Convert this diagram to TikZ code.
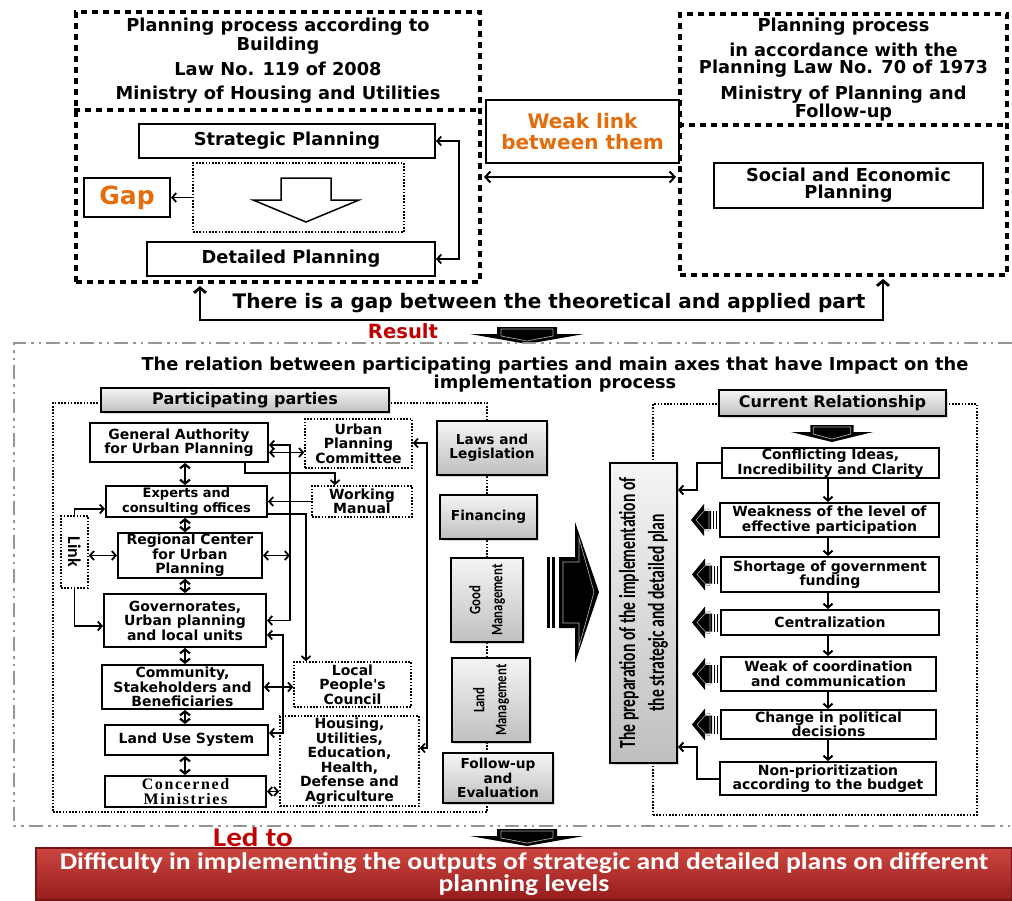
\documentclass[tikz,border=0pt]{standalone}
\usepackage{fontspec}
\setmainfont{DejaVu Sans}
\newfontfamily\calfont{Carlito}
\newfontfamily\calcond{Carlito}[FakeStretch=0.68]
\newfontfamily\calmid{Carlito}[FakeStretch=0.8]
\newfontfamily\calwide{Carlito}[FakeStretch=1.15]
\newfontfamily\timesfont{Liberation Serif}[LetterSpace=10]
\usetikzlibrary{arrows.meta,shadows}

\definecolor{gaporange}{RGB}{228,108,10}
\definecolor{resred}{RGB}{192,0,0}
\definecolor{difftop}{RGB}{205,70,64}
\definecolor{diffbot}{RGB}{150,28,28}
\definecolor{frameg}{RGB}{150,150,150}

\newcommand\hdfont{\fontsize{17.8pt}{17pt}\selectfont\bfseries}
\newcommand\ttlfont{\fontsize{17.8pt}{18pt}\selectfont\bfseries}
\newcommand\boxfont{\fontsize{14pt}{14.5pt}\selectfont\bfseries}
\newcommand\smfont{\fontsize{13pt}{15pt}\selectfont\bfseries}
\newcommand\lblfont{\fontsize{16pt}{17pt}\selectfont\bfseries}
\newcommand\axfont{\fontsize{13.7pt}{14.5pt}\selectfont\bfseries}
\newcommand\gapfont{\fontsize{25pt}{26pt}\selectfont\bfseries}
\newcommand\weakfont{\fontsize{20pt}{21pt}\selectfont\bfseries}
\newcommand\resfont{\fontsize{19.6pt}{20pt}\selectfont\bfseries}
\newcommand\prepfont{\calcond\fontsize{23pt}{29pt}\selectfont\bfseries}
\newcommand\mgfont{\calmid\fontsize{16pt}{22pt}\selectfont\bfseries}
\newcommand\linkfont{\calfont\fontsize{18pt}{18pt}\selectfont\bfseries}
\newcommand\ledfont{\calwide\fontsize{27pt}{28pt}\selectfont\bfseries}
\newcommand\difffont{\calwide\fontsize{24pt}{22pt}\selectfont\bfseries}
\newcommand\minfont{\timesfont\fontsize{16pt}{15pt}\selectfont\bfseries}

\tikzset{every picture/.style={line width=1.8pt},
  >={Straight Barb[length=4pt,width=9pt]},
  sz/.style 2 args={minimum width=#1pt,minimum height=#2pt},
  bigdash/.style={draw, line width=4pt, dash pattern=on 6pt off 5pt},
  hdtext/.style={align=center, font=\hdfont, inner sep=0pt},
  sbox/.style={draw, line width=2pt, fill=white, align=center, font=\boxfont, inner sep=1pt},
  dbox/.style={draw, line width=1.6pt, dash pattern=on 1.6pt off 1.6pt, fill=white, align=center, font=\boxfont, inner sep=1pt},
  dotframe/.style={draw, line width=1.6pt, dash pattern=on 1.6pt off 1.6pt},
  gbox/.style={draw, line width=2pt, top color=gray!8, bottom color=gray!50, align=center, font=\boxfont, inner sep=1pt,
    drop shadow={opacity=0.3, shadow xshift=1.5pt, shadow yshift=-1.5pt}},
  spine/.style={line width=2.2pt, >={Straight Barb[length=4pt,width=10pt]}},
  chain/.style={line width=2pt, ->},
  downblk/.pic={
    \fill[black] (-30,8) -- (30,8) -- (30,1) -- (57,1) -- (0,-9) -- (-57,1) -- (-30,1) -- cycle;
    \draw[gray!70, line width=0.7pt] (-26,6) -- (26,6) -- (26,-1) -- (0,-6) -- (-26,-1) -- cycle;
  },
  leftblk/.pic={
    \fill[black] (-28,0) -- (-15,-16) -- (-15,-9) -- (-8,-9) -- (-8,9) -- (-15,9) -- (-15,16) -- cycle;
    \draw[gray!70, line width=0.6pt] (-23,0) -- (-13,-11) -- (-10,-11) -- (-10,11) -- (-13,11) -- cycle;
    \fill[black] (-6.5,-9) rectangle (-5,9);
    \fill[black] (-3.5,-9) rectangle (-2,9);
  }
}

\begin{document}
\begin{tikzpicture}[x=1pt,y=1pt,yscale=-1]
\useasboundingbox (0,0) rectangle (1012,900);

% Building law side
\node[bigdash, sz={404}{270}] (lawbox) at (278,147) {};
\coordinate (lawcut) at (278,110);
\draw[bigdash] (lawbox.west |- lawcut) -- (lawbox.east |- lawcut);
\node[hdtext] (lawhead) at (278,61) {Planning process according to\\Building\\[7pt]Law No. 119 of 2008\\[7pt]Ministry of Housing and Utilities};
\node[sbox, sz={296}{34}, font=\hdfont] (sp) at (287,141) {Strategic Planning};
\node[dotframe, sz={211}{69}] (gapzone) at (298.5,197.5) {};
%Shape: hollow arrow
\draw[fill=white, line width=1.5pt] (281,178) -- (331,178) -- (331,200) -- (359,200) -- (306,222) -- (253,200) -- (281,200) -- cycle;
\node[sbox, sz={86}{39}, font=\gapfont, text=gaporange] (gap) at (127,197.5) {Gap};
\node[sbox, sz={288}{34}, font=\hdfont] (dp) at (291,259) {Detailed Planning};
\draw[->] (gapzone) -- (gap);
\draw[<->] (sp.east) -- ++(23,0) |- (dp.east);

% Planning law side
\node[sbox, sz={193}{63}, font=\weakfont, text=gaporange] (weak) at (582.5,131.5) {Weak link\\between them};
\node[bigdash, sz={327}{261}] (planbox) at (843.5,144.5) {};
\coordinate (plancut) at (843.5,125);
\draw[bigdash] (planbox.west |- plancut) -- (planbox.east |- plancut);
\node[hdtext] (planhead) at (843.5,69.5) {Planning process\\[7pt]in accordance with the\\Planning Law No. 70 of 1973\\[7pt]Ministry of Planning and\\Follow-up};
\node[sbox, sz={269}{45}, font=\hdfont] (sep) at (848.5,185.5) {Social and Economic\\Planning};
\coordinate (wl) at (582,177);
\draw[<->, line width=2pt, >={Straight Barb[length=5pt,width=11pt]}, shorten <=2pt, shorten >=2pt] (lawbox.east |- wl) -- (planbox.west |- wl);

% gap between theory and practice
\node[font=\weakfont] (gaptxt) at (549,303) {There is a gap between the theoretical and applied part};
\coordinate (gapL) at (200,320);
\coordinate (gapR) at (883,320);
\draw[<->, line width=2.8pt, >={Straight Barb[length=5pt,width=12pt]}, shorten <=2pt, shorten >=2pt] (lawbox.south -| gapL) -- (gapL) -- (gapR) -- (planbox.south -| gapR);
\node[font=\resfont, text=resred] (result) at (403,331) {Result};
\pic at (527,335) {downblk};

% middle frame
\draw[frameg, line width=2pt, dash pattern=on 14pt off 5pt on 2.5pt off 5pt on 2.5pt off 5pt] (1012,343) -- (14,343) -- (14,826) -- (1012,826);
\node[align=center, font=\ttlfont] (title) at (555,375) {The relation between participating parties and main axes that have Impact on the\\implementation process};

% Participating parties
\node[dotframe, sz={434}{409}] (ppframe) at (270,607.5) {};
\node[gbox, sz={288}{24}, font=\lblfont] (pp) at (245,400) {Participating parties};
\node[sbox, sz={178}{39}] (ga) at (179,442.5) {General Authority\\for Urban Planning};
\node[dbox, sz={107}{49}] (upc) at (358.5,443.5) {Urban\\Planning\\Committee};
\node[sbox, sz={161}{31}, font=\smfont] (exp) at (186.5,501.5) {Experts and\\consulting offices};
\node[dbox, sz={100}{31}] (wm) at (362,501.5) {Working\\Manual};
\node[dbox, sz={27}{72}] (link) at (74.5,552) {};
\node[rotate=-90, font=\linkfont] (linktxt) at (link) {Link};
\node[sbox, sz={144}{43}] (rc) at (190,555.5) {Regional Center\\for Urban\\Planning};
\node[sbox, sz={162}{53}] (gov) at (185,620.5) {Governorates,\\Urban planning\\and local units};
\node[sbox, sz={161}{44}] (com) at (182.5,687) {Community,\\Stakeholders and\\Beneficiaries};
\node[dbox, sz={117}{45}] (lpc) at (352.5,684.5) {Local\\People\textquotesingle s\\Council};
\node[sbox, sz={163}{30}] (lus) at (186.5,740) {Land Use System};
\node[dbox, sz={139}{90}] (hou) at (349.5,761) {Housing,\\Utilities,\\Education,\\Health,\\Defense and\\Agriculture};
\node[sbox, sz={161}{31}, font=\minfont] (cm) at (185.5,791.5) {Concerned\\Ministries};

\coordinate (spinex) at (185,0);
\foreach \a/\b in {ga/exp,exp/rc,rc/gov,gov/com,com/lus,lus/cm}
  \draw[spine, <->] (\a.south -| spinex) -- (\b.north -| spinex);

\coordinate (busA) at (290,445);
\coordinate (gaDrop) at (245,473);
\coordinate (busB) at (306,514);
\coordinate (busC) at (283,635);
\coordinate (busD) at (427,443);
\draw[<->] ([yshift=10pt]ga.east) -- ([yshift=10pt]ga.east -| upc.west);
\draw[<->] (ga.east |- busA) -- (busA) |- (gov.east);
\draw[<->] (rc.east) -- (rc.east -| busA);
\draw[->] (ga.south -| gaDrop) -- (gaDrop) -| ([xshift=-27pt]wm.north);
\draw[->] (wm.west) -- (wm.west -| exp.east);
\draw[->] (exp.east |- busB) -- (busB) -- (busB |- lpc.north);
\draw[<->] (gov.east |- busC) -- (busC) |- ([yshift=-7pt]lus.east);
\draw[<->] (com.east) -- (com.east -| lpc.west);
\draw[<->] (cm.east) -- (cm.east -| hou.west);
\draw[<->] (upc.east |- busD) -- (busD) |- ([yshift=-13pt]hou.east);
\draw[->] (link.north) |- ([yshift=7.5pt]exp.west);
\draw[<->] (link.east |- rc.west) -- (rc.west);
\draw[->] (link.south) |- ([yshift=5.5pt]gov.west);

% Current relationship frame (behind the tall box)
\node[dotframe, sz={324}{411}] (crframe) at (815,609.5) {};

% main axes
\node[gbox, sz={110}{54}, font=\axfont] (laws) at (492,448) {Laws and\\Legislation};
\node[gbox, sz={97}{44}, font=\axfont] (fin) at (488.5,517) {Financing};
\node[gbox, sz={84}{72}, rotate=90, font=\mgfont] (good) at (487,600) {Good\\Management};
\node[gbox, sz={84}{78}, rotate=90, font=\mgfont] (land) at (491,700) {Land\\Management};
\node[gbox, sz={110}{50}, font=\axfont] (fol) at (498,778) {Follow-up\\and\\Evaluation};

%Shape: big arrow
\fill[black] (559,557) -- (575,557) -- (575,522) -- (599,592) -- (575,663) -- (575,628) -- (559,628) -- cycle;
\draw[gray!60, line width=0.6pt] (563,562) -- (579,562) -- (579,538) -- (594,592) -- (579,647) -- (579,623) -- (563,623) -- cycle;
\fill[black] (547,557) rectangle (549.5,628);
\fill[black] (552,557) rectangle (554.5,628);

\node[gbox, sz={67}{300}] (prep) at (643.5,613) {};
\node[rotate=90, align=center, font=\prepfont] (preptxt) at (prep) {The preparation of the implementation of\\the strategic and detailed plan};

% Current relationship
\node[gbox, sz={227}{26}, font=\lblfont] (cr) at (832.5,403) {Current Relationship};
\pic[xscale=0.72] at (832,433) {downblk};
\node[sbox, sz={217}{30}] (c1) at (830.5,463) {Conflicting Ideas,\\Incredibility and Clarity};
\node[sbox, sz={219}{34}] (c2) at (829.5,520) {Weakness of the level of\\effective participation};
\node[sbox, sz={218}{35}] (c3) at (830,574.5) {Shortage of government\\funding};
\node[sbox, sz={218}{25}] (c4) at (830,622.5) {Centralization};
\node[sbox, sz={215}{34}] (c5) at (828.5,674) {Weak of coordination\\and communication};
\node[sbox, sz={215}{29}] (c6) at (828.5,724.5) {Change in political\\decisions};
\node[sbox, sz={216}{33}] (c7) at (828,778.5) {Non-prioritization\\according to the budget};

\coordinate (chainx) at (828,0);
\foreach \a/\b in {c1/c2,c2/c3,c3/c4,c4/c5,c5/c6,c6/c7}
  \draw[chain] (\a.south -| chainx) -- (\b.north -| chainx);
\foreach \c in {c2,c3,c4,c5,c6}
  \pic at (\c.west) {leftblk};

\coordinate (rbT) at (697,490);
\coordinate (rbB) at (697,747);
\draw[chain] (c1.west) -| (rbT) -- (rbT -| prep.east);
\draw[chain] (c7.west) -| (rbB) -- (rbB -| prep.east);

% Result
\node[font=\ledfont, text=resred] (led) at (253,837) {Led to};
\pic at (527,837) {downblk};
\node[draw=diffbot!80!black, line width=1.5pt, top color=difftop, bottom color=diffbot, sz={976}{52}, text=white, align=center, font=\difffont, inner sep=0pt] (diff) at (524,874) {Difficulty in implementing the outputs of strategic and detailed plans on different\\planning levels};

\end{tikzpicture}
\end{document}
